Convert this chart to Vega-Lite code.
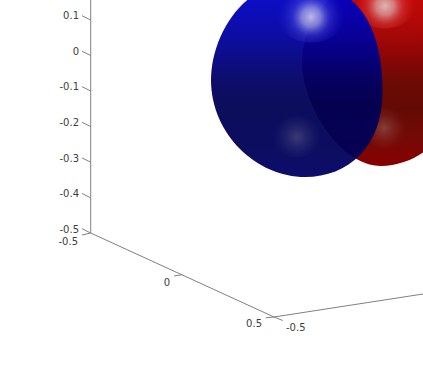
{"$schema":"https://vega.github.io/schema/vega-lite/v6.json","width":423,"height":382,"padding":0,"autosize":"none","background":"white","view":{"stroke":null},
"encoding":{"x":{"field":"u","type":"quantitative","scale":{"domain":[0,423],"nice":false,"zero":false},"axis":null},"y":{"field":"v","type":"quantitative","scale":{"domain":[382,0],"nice":false,"zero":false},"axis":null}},
"layer":[
{"data":{"values":[{"u":383,"v":72}]},"mark":{"type":"point","clip":true,"filled":true,"size":4,"opacity":1,"shape":"M-81,-10C-81,-53 -47,-94 2,-94C50,-94 81,-45 81,5C81,50 43,94 -2,94C-43.3,94 -81,32.7 -81,-10Z","fill":{"gradient":"linear","x1":0,"y1":0,"x2":0,"y2":1,"stops":[{"offset":0,"color":"#c80000"},{"offset":0.12,"color":"#c00808"},{"offset":0.27,"color":"#ac0808"},{"offset":0.4,"color":"#900606"},{"offset":0.55,"color":"#6c0a05"},{"offset":0.7,"color":"#640a05"},{"offset":0.85,"color":"#740a06"},{"offset":1,"color":"#880000"}]}}},
{"data":{"values":[{"u":385,"v":6}]},"mark":{"type":"point","clip":true,"filled":true,"size":3600,"opacity":1,"shape":"M-1,0A1,0.75 0 1,1 1,0A1,0.75 0 1,1 -1,0Z","fill":{"gradient":"radial","x1":0.5,"y1":0.5,"r1":0,"x2":0.5,"y2":0.5,"r2":0.5,"stops":[{"offset":0,"color":"rgba(225,200,200,0.9)"},{"offset":0.3,"color":"rgba(225,175,175,0.7)"},{"offset":0.6,"color":"rgba(225,90,90,0.38)"},{"offset":1,"color":"rgba(220,40,40,0)"}]}}},
{"data":{"values":[{"u":384,"v":128}]},"mark":{"type":"point","clip":true,"filled":true,"size":2000,"opacity":1,"shape":"M-1,0A1,0.9 0 1,1 1,0A1,0.9 0 1,1 -1,0Z","fill":{"gradient":"radial","x1":0.5,"y1":0.5,"r1":0,"x2":0.5,"y2":0.5,"r2":0.5,"stops":[{"offset":0,"color":"rgba(165,135,125,0.42)"},{"offset":1,"color":"rgba(140,60,50,0)"}]}}},
{"data":{"values":[{"u":296,"v":80}]},"mark":{"type":"point","clip":true,"filled":true,"size":4,"opacity":0.95,"shape":"M-85,0C-85,-43 -54,-98 0,-98C52.7,-98 86.5,-65.3 86.5,12C86.5,66.7 52.3,97 9,97C-39,97 -85,54.7 -85,0Z","fill":{"gradient":"linear","x1":0,"y1":0,"x2":0,"y2":1,"stops":[{"offset":0,"color":"#0000d0"},{"offset":0.1,"color":"#0000c0"},{"offset":0.25,"color":"#0000a4"},{"offset":0.38,"color":"#000084"},{"offset":0.5,"color":"#000064"},{"offset":0.62,"color":"#000054"},{"offset":0.85,"color":"#000058"},{"offset":1,"color":"#000064"}]}}},
{"data":{"values":[{"u":311,"v":17}]},"mark":{"type":"point","clip":true,"filled":true,"size":4624,"opacity":1,"shape":"M-1,0A1,0.75 0 1,1 1,0A1,0.75 0 1,1 -1,0Z","fill":{"gradient":"radial","x1":0.5,"y1":0.5,"r1":0,"x2":0.5,"y2":0.5,"r2":0.5,"stops":[{"offset":0,"color":"rgba(205,205,232,0.9)"},{"offset":0.28,"color":"rgba(170,170,235,0.72)"},{"offset":0.55,"color":"rgba(85,85,225,0.42)"},{"offset":1,"color":"rgba(30,30,210,0)"}]}}},
{"data":{"values":[{"u":297,"v":137}]},"mark":{"type":"point","clip":true,"filled":true,"size":2300,"opacity":1,"shape":"M-1,0A1,0.85 0 1,1 1,0A1,0.85 0 1,1 -1,0Z","fill":{"gradient":"radial","x1":0.5,"y1":0.5,"r1":0,"x2":0.5,"y2":0.5,"r2":0.5,"stops":[{"offset":0,"color":"rgba(115,115,145,0.45)"},{"offset":1,"color":"rgba(60,60,130,0)"}]}}},
{"data":{"values":[
{"u":90.7,"v":0,"u2":90.7,"v2":233},{"u":90.7,"v":233,"u2":274,"v2":317},{"u":274,"v":317,"u2":423,"v2":294},
{"u":90.7,"v":20,"u2":82,"v2":15.7},{"u":90.7,"v":55.5,"u2":82,"v2":51.2},{"u":90.7,"v":91,"u2":82,"v2":86.7},{"u":90.7,"v":126.6,"u2":82,"v2":122.3},{"u":90.7,"v":162.2,"u2":82,"v2":157.9},{"u":90.7,"v":197.8,"u2":82,"v2":193.5},{"u":90.7,"v":233,"u2":82,"v2":228.7},
{"u":90.7,"v":233,"u2":82,"v2":235},{"u":182.3,"v":274.7,"u2":174,"v2":276},{"u":274,"v":317,"u2":265.7,"v2":317.8},
{"u":274,"v":317,"u2":282.7,"v2":320.5}
]},"mark":{"type":"rule","color":"#808080","strokeWidth":1},"encoding":{"x2":{"field":"u2"},"y2":{"field":"v2"}}},
{"data":{"values":[
{"u":79,"v":15.5,"t":"0.1"},{"u":79,"v":51.5,"t":"0"},{"u":79,"v":86.5,"t":"-0.1"},{"u":79,"v":122.5,"t":"-0.2"},{"u":79,"v":158.5,"t":"-0.3"},{"u":79,"v":193.5,"t":"-0.4"},{"u":79,"v":229.5,"t":"-0.5"},
{"u":78,"v":241.5,"t":"-0.5"},{"u":170,"v":282.5,"t":"0"},{"u":262,"v":323.5,"t":"0.5"}
]},"mark":{"type":"text","align":"right","baseline":"middle","font":"DejaVu Sans","fontSize":10,"color":"#404040"},"encoding":{"text":{"field":"t","type":"nominal"}}},
{"data":{"values":[{"u":286,"v":327.5,"t":"-0.5"}]},"mark":{"type":"text","align":"left","baseline":"middle","font":"DejaVu Sans","fontSize":10,"color":"#404040"},"encoding":{"text":{"field":"t","type":"nominal"}}}
]}
